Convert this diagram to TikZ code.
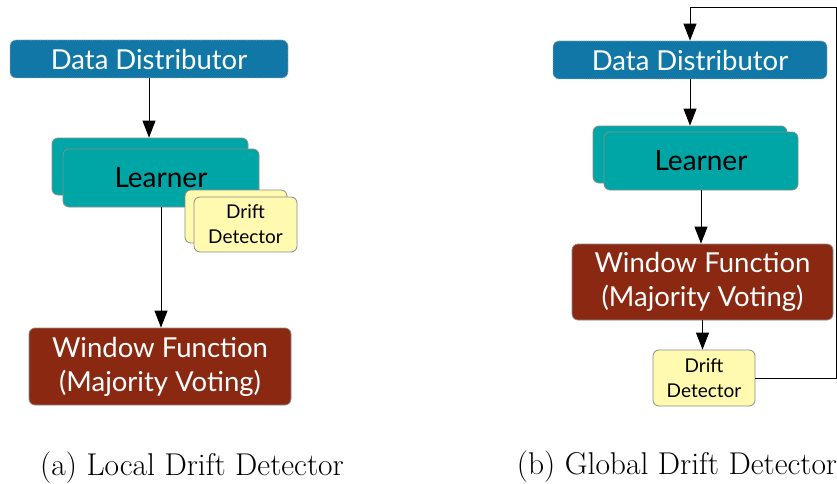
\documentclass[tikz,border=0pt]{standalone}
\usepackage{fontspec}
\newfontfamily\boxfont{Lato}
\usetikzlibrary{arrows.meta}
\definecolor{ddblue}{RGB}{16,119,166}
\definecolor{lteal}{RGB}{0,166,166}
\definecolor{wfred}{RGB}{139,40,17}
\definecolor{dtyellow}{RGB}{255,250,176}
\definecolor{bordergray}{RGB}{140,140,140}
\tikzset{
  box/.style={rounded corners=6pt, draw=bordergray, line width=0.8pt, align=center, inner sep=0pt, font=\boxfont},
  distbox/.style={box, fill=ddblue, draw=gray!60, densely dotted, text=white, font=\boxfont\fontsize{27.5}{30}\selectfont},
  learnbox/.style={box, fill=lteal, text=black, font=\boxfont\fontsize{28}{30}\selectfont},
  wfbox/.style={box, fill=wfred, text=white, font=\boxfont\fontsize{27.5}{34}\selectfont},
  detbox/.style={box, fill=dtyellow, text=black, font=\boxfont\fontsize{19}{25}\selectfont},
  conn/.style={line width=1pt, draw=black},
  arr/.style={conn, -{Triangle[length=17pt,width=13pt]}},
  caption/.style={font=\fontsize{31.5}{36}\selectfont, inner sep=0pt}
}
\begin{document}
\begin{tikzpicture}[x=1pt,y=-1pt]
\useasboundingbox (0,0) rectangle (837,484);
% ---------- (a) ----------
\node[distbox, minimum width=278pt, minimum height=38pt] (dd1) at (149,59) {Data Distributor};
\node[learnbox, minimum width=196pt, minimum height=57pt] (l1b) at (150,166.5) {};
\node[learnbox, minimum width=196pt, minimum height=58pt] (l1) at (161,178) {Learner};
\node[detbox, minimum width=102pt, minimum height=53pt] (dt1b) at (236,216.5) {};
\node[detbox, minimum width=103pt, minimum height=55pt] (dt1) at (245.5,224.5) {Drift\\Detector};
\node[wfbox, minimum width=262pt, minimum height=77pt] (wf1) at (160,366.5) {Window Function\\(Majority Voting)};
\draw[arr] (dd1.south) -- (dd1.south |- l1b.north);
\draw[arr] (l1.south) -- (l1.south |- wf1.north);
\node[caption] (capa) at (192,468) {(a) Local Drift Detector};
% ---------- (b) ----------
\node[distbox, minimum width=274pt, minimum height=38pt] (dd2) at (690,60) {Data Distributor};
\node[learnbox, minimum width=194pt, minimum height=57pt] (l2b) at (690,154.5) {};
\node[learnbox, minimum width=194pt, minimum height=58pt] (l2) at (701,161) {Learner};
\node[wfbox, minimum width=261pt, minimum height=76pt] (wf2) at (702.5,282) {Window Function\\(Majority Voting)};
\node[detbox, minimum width=102pt, minimum height=56pt] (dt2) at (704,378) {Drift\\Detector};
\coordinate (c1) at (836,378);
\coordinate (c2) at (836,8);
\coordinate (c3) at (690,8);
\draw[arr] (dd2.south) -- (dd2.south |- l2b.north);
\draw[arr] (l2.south) -- (l2.south |- wf2.north);
\draw[arr] (wf2.south) -- (wf2.south |- dt2.north);
\draw[arr] (dt2.east) -- (c1) -- (c2) -- (c3) -- (dd2.north);
\node[caption] (capb) at (677,467) {(b) Global Drift Detector};
\end{tikzpicture}
\end{document}
